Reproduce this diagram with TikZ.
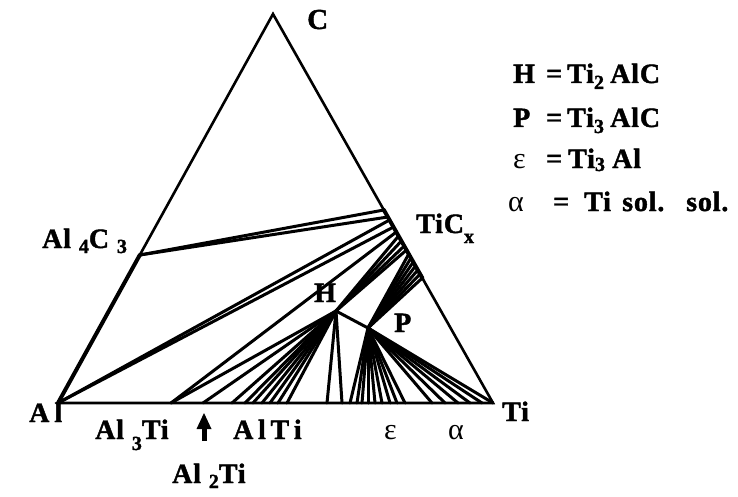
\documentclass[tikz,border=0pt]{standalone}
\usepackage{fontspec}
\setmainfont{Liberation Serif}[BoldFeatures={FakeBold=1.5,LetterSpace=3}]
\usetikzlibrary{arrows.meta}
\newcommand\dn[2][5pt]{\raisebox{-#1}{\fontsize{20}{20}\selectfont #2}}
\begin{document}
\begin{tikzpicture}[x=1pt,y=-1pt,
  tie/.style={line width=3pt,line cap=round},
  edge/.style={line width=2.6pt,line join=miter},
  heavy/.style={line width=4pt,line cap=round},
  lbl/.style={font=\fontsize{28}{28}\selectfont\bfseries,inner sep=0pt,anchor=base west},
  glbl/.style={font=\fontsize{30}{30}\selectfont,inner sep=0pt,anchor=base west}]
\useasboundingbox (0,0) rectangle (738,497);
% corners
\coordinate (Al) at (58,403);
\coordinate (Ti) at (493,403);
\coordinate (C) at (273,14);
\coordinate (A4) at (139.8,255);
\coordinate (H) at (336,311);
\coordinate (P) at (368,328);
\coordinate (A3) at (171,403);
% TiCx points on right edge
\foreach \y [count=\i] in {210,217,220,227,232,236,241,246,250,254,258,262,266,270,274,278}
  \coordinate (t\i) at ({273+0.5656*(\y-14)},\y);
% triangle
\draw[edge] (Al) -- (Ti) -- (C) -- cycle;
\draw[heavy] (A4) -- (Al);
\draw[heavy] (t1) -- (t16);
% tie lines
\draw[tie] (A4) -- (t1);
\draw[tie] (A4) -- (t2);
\draw[tie] (Al) -- (t3);
\draw[tie] (Al) -- (t4);
\draw[tie] (A3) -- (t5);
\draw[tie] (A3) -- (H);
\foreach \i in {6,...,9} \draw[tie] (H) -- (t\i);
\foreach \i in {10,...,16} \draw[tie] (P) -- (t\i);
\draw[tie] (H) -- (P);
\foreach \x [count=\i] in {203,232,245,253,262,270,278,287,327,342} {
  \coordinate (hb\i) at (\x,403);
  \draw[tie] (H) -- (hb\i);
}
\foreach \x [count=\i] in {350,357,362,368,375,382,390,397,405,432,445,458,470,482} {
  \coordinate (pb\i) at (\x,403);
  \draw[tie] (P) -- (pb\i);
}
\draw[tie] (P) -- (Ti);
% arrow
\coordinate (arB) at (204,441);
\coordinate (arT) at (204,413);
\coordinate (arN) at (204,426);
\draw[line width=5pt] (arB) -- (arN);
\fill (arT) -- ++(-7.5,16) -- ++(15,0) -- cycle;
% labels
\node[lbl,font=\fontsize{29}{29}\selectfont\bfseries] (lC) at (307,29) {C};
\node[lbl] (lTiC) at (416,233) {TiC\dn[10pt]{x}};
\node[lbl] (lA4) at (42,248) {Al \dn{4}C \dn{3}};
\node[lbl] (lH) at (314,302) {H};
\node[lbl] (lP) at (394,332) {P};
\node[lbl] (lAl) at (29,422) {A\hspace{5pt}l};
\node[lbl] (lTi) at (502,421) {Ti};
\node[lbl] (lA3T) at (95,439) {Al \dn[11pt]{3}Ti};
\node[lbl] (lAT) at (233,439) {A\,l\,T\,i};
\node[lbl] (lA2T) at (172,483) {Al \dn{2}Ti};
\node[glbl] (leps) at (384,439) {ε};
\node[glbl] (lalp) at (448,439) {α};
% legend
\node[lbl] (k1a) at (513,83) {H};
\node[lbl] (k1b) at (546,83) {=};
\node[lbl] (k1c) at (567,83) {Ti\dn[6pt]{2}};
\node[lbl] (k1d) at (610,83) {AlC};
\node[lbl] (k2a) at (513,127) {P};
\node[lbl] (k2b) at (546,127) {=};
\node[lbl] (k2c) at (567,127) {Ti\dn[6pt]{3}};
\node[lbl] (k2d) at (610,127) {AlC};
\node[glbl] (k3a) at (513,168) {ε};
\node[lbl] (k3b) at (546,168) {=};
\node[lbl] (k3c) at (568,168) {Ti\dn[3pt]{3}};
\node[lbl] (k3d) at (612,168) {Al};
\node[glbl] (k4a) at (508,211) {α};
\node[lbl] (k4b) at (553,211) {=};
\node[lbl] (k4c) at (584,211) {Ti};
\node[lbl] (k4d) at (622,211) {sol.};
\node[lbl] (k4e) at (686,211) {sol.};
\end{tikzpicture}
\end{document}
